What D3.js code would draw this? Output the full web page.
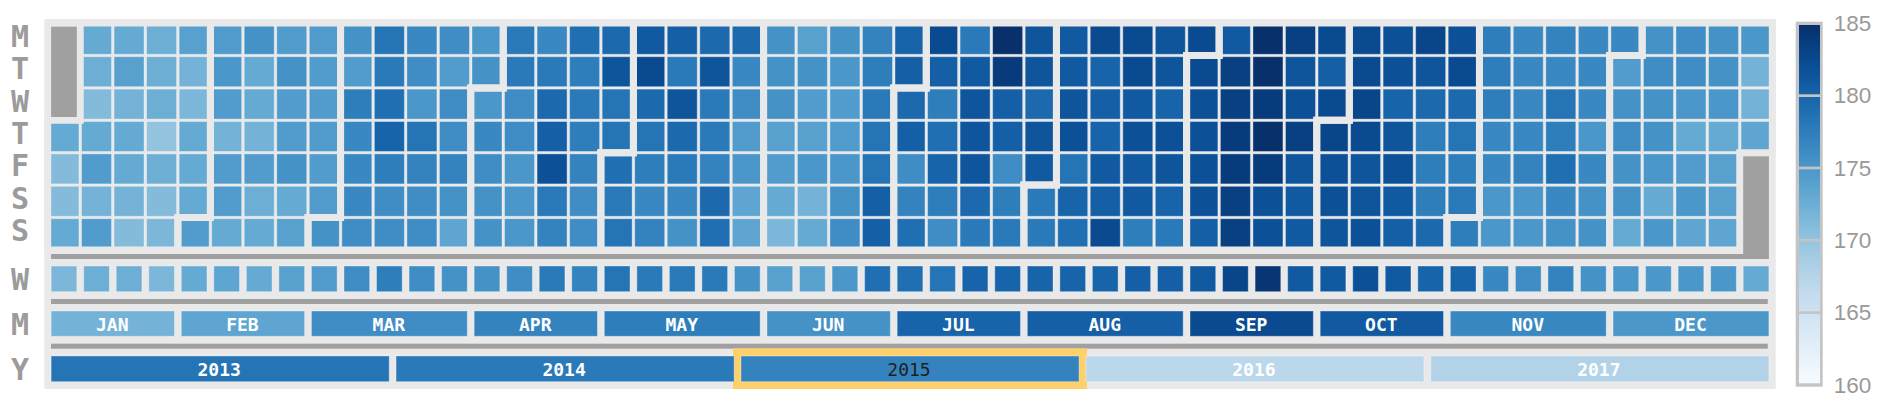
<!DOCTYPE html>
<html>
<head>
<meta charset="utf-8">
<script src="https://cdn.jsdelivr.net/npm/d3@7"></script>
<style>
  html, body { margin: 0; padding: 0; background: #ffffff; }
  svg { display: block; }
</style>
</head>
<body>
<svg id="chart" width="1894" height="420"></svg>
<script>
// ---------------- DATA ----------------
const calendarYear = 2015;
const dayLabels = ["M", "T", "W", "T", "F", "S", "S"];
const sectionLabels = ["W", "M", "Y"];
const monthNames = ["JAN", "FEB", "MAR", "APR", "MAY", "JUN", "JUL", "AUG", "SEP", "OCT", "NOV", "DEC"];

// daily values, Jan 1 .. Dec 31 2015 (grouped by calendar week, Mon..Sun)
const dailyValues = [
  173, 171, 171, 173,
  173, 172.5, 171, 173, 174.5, 172, 174.5,
  173, 174, 172, 173, 173, 172, 171,
  172.5, 172.5, 172.5, 170, 172.5, 171, 171.5,
  174, 172, 171.5, 173, 173, 173, 174.5,
  174.5, 175, 174.5, 172, 174.5, 174.5, 173,
  175.5, 173, 173, 172, 174.5, 172.5, 173,
  174.5, 175.5, 174.5, 174.5, 175.5, 173, 174,
  174.5, 174.5, 174.5, 174.5, 174.5, 174.5, 175.5,
  175.5, 174.5, 177.5, 176.5, 176.5, 176.5, 176,
  178.5, 178, 179, 180, 177.5, 176, 176,
  176.5, 176, 175, 178.5, 177, 176, 176,
  176, 174.5, 176, 176, 177, 175.5, 173.5,
  175, 175.5, 175, 176.5, 176, 175.5, 175.5,
  178, 178, 176, 176, 175, 175, 175,
  176.5, 178, 179.5, 180.5, 182, 178, 177,
  179, 177.5, 178, 177.5, 177, 176, 176,
  179.5, 181.5, 178.5, 178.5, 179, 178, 178.5,
  181, 182.5, 179.5, 178.5, 177.5, 176.5, 177,
  180.5, 178, 181.5, 179.5, 178, 176.5, 175.5,
  179.5, 181.5, 178, 178, 177, 179.5, 179,
  179.5, 176.5, 176, 174.5, 175, 173.5, 173.5,
  175.5, 175.5, 175.5, 174, 174.5, 173, 171.5,
  174, 175.5, 174.5, 174, 175, 172, 173,
  175.5, 175, 174.5, 174.5, 175, 175.5, 176,
  177, 177.5, 178, 178.5, 178.5, 180.5, 180.5,
  180, 180.5, 179.5, 180.5, 176, 177, 179,
  182.5, 180.5, 177.5, 179, 180, 177.5, 176,
  178, 181, 181.5, 181.5, 181.5, 179.5, 178,
  185, 184, 180.5, 180.5, 176, 177.5, 178,
  181.5, 181.5, 179.5, 181.5, 181, 178, 178,
  181, 181, 181.5, 182, 178.5, 180, 179,
  182.5, 180, 180.5, 180, 181, 180.5, 182.5,
  182.5, 182.5, 181, 182, 181, 181, 177.5,
  181.5, 181.5, 180, 182, 181.5, 180, 178,
  182.5, 182.5, 182, 182, 182, 182, 180.5,
  181, 183.5, 183.5, 184, 184, 183.5, 183.5,
  185, 185, 184, 185, 184, 182, 182,
  183.5, 181.5, 182, 183.5, 181.5, 181, 181,
  182.5, 180.5, 182.5, 183, 182, 182, 181.5,
  182.5, 182.5, 183, 182.5, 181.5, 181.5, 182,
  182, 182, 180, 181.5, 182, 181, 180.5,
  183, 181.5, 179.5, 177.5, 177.5, 177.5, 179.5,
  182, 182.5, 179.5, 178.5, 177.5, 178, 177.5,
  177.5, 177.5, 177.5, 176.5, 176.5, 175, 175,
  176.5, 176.5, 176.5, 176.5, 177, 175, 175,
  177, 176.5, 178.5, 177.5, 179, 176.5, 175.5,
  176.5, 176.5, 176.5, 175, 176.5, 175.5, 175.5,
  176.5, 174.5, 175.5, 176, 175.5, 175.5, 173,
  175.5, 176, 175.5, 175.5, 175, 173, 175,
  176, 176, 175, 173, 174.5, 175, 173.5,
  175.5, 175.5, 175, 173, 174, 174, 173.5,
  175, 172, 172, 173.5
];

const weeklyValues = [
  171.5, 172.5, 172.5, 171.5, 173, 173.5, 173, 174, 174.5, 176,
  177.5, 176, 175.5, 175.5, 176, 178, 177, 178.5, 178, 178,
  178, 175.5, 174, 174, 175, 179, 179, 178.5, 180, 180,
  180, 180, 180, 180.5, 180.5, 181, 183, 184.5, 181, 181,
  182, 181, 180, 180, 176.5, 176, 177, 175.5, 175, 175,
  175, 175, 173
];

const monthlyValues = [172, 173.5, 176, 177, 177.5, 175.5, 180, 180.5, 182.5, 181, 176.5, 175];

const years = [2013, 2014, 2015, 2016, 2017];
const yearlyValues = [178.5, 178, 177, 167, 167.8];
const selectedYear = 2015;

const colorDomain = [160, 185];
const legendTicks = [160, 165, 170, 175, 180, 185];
const legendBreaks = [165, 170, 175, 180];

// ---------------- LAYOUT ----------------
const svg = d3.select("#chart");
const color = d3.scaleSequential(d3.interpolateBlues).domain(colorDomain);

const nWeeks = 53;
const colStep = 32.54, rowStep = 32.4;
const gridLeft = 47.7, gridTop = 23.1;
const x = d3.scaleLinear().domain([0, nWeeks]).range([gridLeft, gridLeft + nWeeks * colStep]);
const y = d3.scaleLinear().domain([0, 7]).range([gridTop, gridTop + 7 * rowStep]);
const gapX = 2.54, gapY = 2.4;
const inset = 2.15;

const BG = "#e9e9e9";
const GRAY = "#a0a0a0";
const LABEL = "#9b9b9b";
const MONO = "'DejaVu Sans Mono', 'Liberation Mono', monospace";

// background panel
svg.append("rect")
  .attr("x", 44.3).attr("y", 19)
  .attr("width", 1775.7 - 44.3).attr("height", 389 - 19)
  .attr("fill", BG);

// ---- days
const yearStart = new Date(calendarYear, 0, 1);
const yearEnd = new Date(calendarYear + 1, 0, 1);
const days = d3.timeDays(yearStart, yearEnd);
const colOf = d => d3.timeMonday.count(yearStart, d);
const rowOf = d => (d.getDay() + 6) % 7;

const gDays = svg.append("g");
gDays.selectAll("rect.day")
  .data(days)
  .join("rect")
  .attr("class", "day")
  .attr("x", d => x(colOf(d)) + gapX / 2)
  .attr("y", d => y(rowOf(d)) + gapY / 2)
  .attr("width", x(1) - x(0) - gapX)
  .attr("height", y(1) - y(0) - gapY)
  .attr("fill", (d, i) => color(dailyValues[i]))
  .attr("stroke", "#ffffff")
  .attr("stroke-opacity", 0.35)
  .attr("stroke-width", 1);

// month outlines
const months = d3.timeMonths(yearStart, yearEnd);
function monthPath(t0) {
  const t1 = new Date(t0.getFullYear(), t0.getMonth() + 1, 0);
  const d0 = rowOf(t0), w0 = colOf(t0);
  const d1 = rowOf(t1), w1 = colOf(t1);
  return "M" + x(w0 + 1) + "," + y(d0) +
    "H" + x(w0) + "V" + y(7) +
    "H" + x(w1) + "V" + y(d1 + 1) +
    "H" + x(w1 + 1) + "V" + y(0) +
    "H" + x(w0 + 1) + "Z";
}
gDays.selectAll("path.month")
  .data(months)
  .join("path")
  .attr("class", "month")
  .attr("d", monthPath)
  .attr("fill", "none")
  .attr("stroke", BG)
  .attr("stroke-width", 7)
  .attr("stroke-linejoin", "miter");

// empty positions (outside year) as gray blocks
const firstRow = rowOf(days[0]);
const lastRow = rowOf(days[days.length - 1]);
const lastCol = colOf(days[days.length - 1]);
const bar1Top = 254, bar1Bottom = 259;
svg.append("rect")
  .attr("x", x(0) + gapX / 2 + inset)
  .attr("y", y(0) + gapY / 2 + 2.4)
  .attr("width", x(1) - x(0) - gapX - 2 * inset)
  .attr("height", y(firstRow) - y(0) - gapY - 4.5)
  .attr("fill", GRAY);
svg.append("rect")
  .attr("x", x(lastCol) + gapX / 2 + inset)
  .attr("y", y(lastRow + 1) + gapY / 2 + 2.4)
  .attr("width", x(1) - x(0) - gapX - 2 * inset)
  .attr("height", bar1Bottom - (y(lastRow + 1) + gapY / 2 + 2.4))
  .attr("fill", GRAY);

// separator bars
const barLeft = x(0) + gapX / 2 + inset - 0.1;
const barRight = x(nWeeks) - gapX / 2 - inset - 1.1;
[[bar1Top, bar1Bottom], [299, 304], [343.7, 348.7]].forEach(([t, b]) => {
  svg.append("rect")
    .attr("x", barLeft).attr("y", t)
    .attr("width", barRight - barLeft).attr("height", b - t)
    .attr("fill", GRAY);
});

// ---- weekly row
const wTop = 266, wH = 25.7;
svg.append("g").selectAll("rect")
  .data(weeklyValues)
  .join("rect")
  .attr("x", (d, i) => x(i) + gapX / 2 + inset)
  .attr("y", wTop)
  .attr("width", x(1) - x(0) - gapX - 2 * inset)
  .attr("height", wH)
  .attr("fill", d => color(d))
  .attr("stroke", "#ffffff").attr("stroke-opacity", 0.35).attr("stroke-width", 1);

// ---- monthly row (a week column belongs to the month of its Sunday)
const weekMonth = d3.range(nWeeks).map(c => {
  const sunday = d3.timeDay.offset(d3.timeMonday.floor(yearStart), c * 7 + 6);
  return sunday.getFullYear() > calendarYear ? 11 : sunday.getMonth();
});
const monthSpans = monthNames.map((name, m) => {
  const cols = weekMonth.map((mm, c) => mm === m ? c : -1).filter(c => c >= 0);
  return { name, value: monthlyValues[m], start: d3.min(cols), end: d3.max(cols) + 1 };
});
const mTop = 311, mH = 25.3;
const gM = svg.append("g");
gM.selectAll("rect")
  .data(monthSpans)
  .join("rect")
  .attr("x", d => x(d.start) + gapX / 2 + inset)
  .attr("y", mTop)
  .attr("width", d => x(d.end) - x(d.start) - gapX - 2 * inset)
  .attr("height", mH)
  .attr("fill", d => color(d.value))
  .attr("stroke", "#ffffff").attr("stroke-opacity", 0.35).attr("stroke-width", 1);
gM.selectAll("text")
  .data(monthSpans)
  .join("text")
  .attr("x", d => (x(d.start) + x(d.end)) / 2 - 0.5)
  .attr("y", mTop + mH / 2 + 7)
  .attr("text-anchor", "middle")
  .attr("font-family", MONO)
  .attr("font-weight", "bold")
  .attr("font-size", 18)
  .attr("fill", "#ffffff")
  .text(d => d.name);

// ---- yearly row
const yTop = 356, yH = 25.7;
const yearW = nWeeks / years.length;
const yearSpans = years.map((yr, i) => ({ yr, value: yearlyValues[i], start: i * yearW, end: (i + 1) * yearW }));
const gY = svg.append("g");
const sel = yearSpans.find(d => d.yr === selectedYear);
const selX0 = x(sel.start) + gapX / 2 + inset, selX1 = x(sel.end) - gapX / 2 - inset;
gY.append("rect")
  .attr("x", selX0 - 8).attr("y", 348.3)
  .attr("width", selX1 - selX0 + 16).attr("height", 389 - 348.3)
  .attr("fill", "#fdd06c");
gY.selectAll("rect.yr")
  .data(yearSpans)
  .join("rect")
  .attr("class", "yr")
  .attr("x", d => x(d.start) + gapX / 2 + inset)
  .attr("y", yTop)
  .attr("width", d => x(d.end) - x(d.start) - gapX - 2 * inset)
  .attr("height", yH)
  .attr("fill", d => color(d.value))
  .attr("stroke", "#ffffff").attr("stroke-opacity", 0.35).attr("stroke-width", 1);
gY.selectAll("text")
  .data(yearSpans)
  .join("text")
  .attr("x", d => (x(d.start) + x(d.end)) / 2 - 1)
  .attr("y", yTop + yH / 2 + 7)
  .attr("text-anchor", "middle")
  .attr("font-family", MONO)
  .attr("font-weight", d => d.yr === selectedYear ? "normal" : "bold")
  .attr("font-size", 18)
  .attr("fill", d => d.yr === selectedYear ? "#1e1e1e" : "#ffffff")
  .text(d => d.yr);

// ---- row labels
const gL = svg.append("g")
  .attr("font-family", MONO)
  .attr("font-weight", "bold")
  .attr("font-size", 30)
  .attr("fill", LABEL)
  .attr("text-anchor", "middle");
gL.selectAll("text.day")
  .data(dayLabels)
  .join("text")
  .attr("class", "day")
  .attr("x", 20)
  .attr("y", (d, i) => (y(i) + y(i + 1)) / 2 + 7.4)
  .text(d => d);
const sectionCenters = [wTop + wH / 2, mTop + mH / 2, yTop + yH / 2];
gL.selectAll("text.sec")
  .data(sectionLabels)
  .join("text")
  .attr("class", "sec")
  .attr("x", 20)
  .attr("y", (d, i) => sectionCenters[i] + 11.2)
  .text(d => d);

// ---- legend
const ly = d3.scaleLinear().domain(colorDomain).range([385, 23.3]);
const defs = svg.append("defs");
const grad = defs.append("linearGradient")
  .attr("id", "legendGrad")
  .attr("x1", 0).attr("y1", 1).attr("x2", 0).attr("y2", 0);
d3.range(0, 1.0001, 0.05).forEach(t => {
  grad.append("stop").attr("offset", t).attr("stop-color", d3.interpolateBlues(t));
});
const gLeg = svg.append("g");
gLeg.append("rect")
  .attr("x", 1795.7).attr("y", 21.7)
  .attr("width", 27).attr("height", 386.7 - 21.7)
  .attr("fill", "#c4c4c4");
gLeg.append("rect")
  .attr("x", 1799).attr("y", ly(185) + 1.7)
  .attr("width", 21).attr("height", (ly(160) - 1.7) - (ly(185) + 1.7))
  .attr("fill", "url(#legendGrad)");
gLeg.selectAll("line")
  .data(legendBreaks)
  .join("line")
  .attr("x1", 1797).attr("x2", 1822)
  .attr("y1", d => ly(d)).attr("y2", d => ly(d))
  .attr("stroke", "#c4c4c4").attr("stroke-width", 2.7);

const axis = d3.axisRight(ly).tickValues(legendTicks).tickSize(0).tickPadding(11).tickFormat(d3.format("d"));
const gAx = svg.append("g")
  .attr("transform", "translate(1822.7,0)")
  .call(axis);
gAx.select(".domain").remove();
gAx.selectAll("text")
  .attr("font-family", "'Liberation Sans', Arial, Helvetica, sans-serif")
  .attr("font-size", 22.5)
  .attr("fill", "#999999");
gAx.attr("font-family", null).attr("font-size", null);
</script>
</body>
</html>
